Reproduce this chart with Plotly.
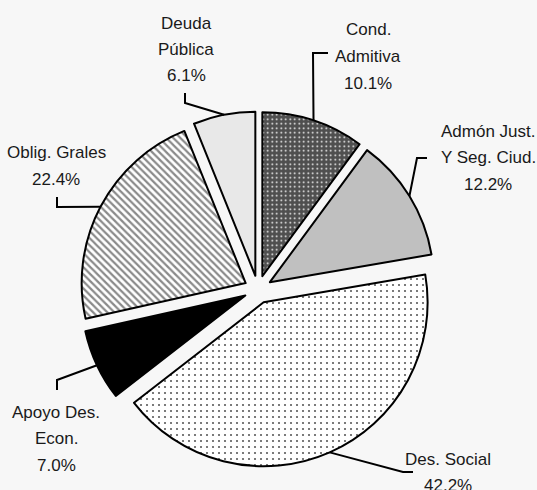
import math
import plotly.graph_objects as go

# ---- data ----
labels = [["Cond.", "Admitiva"], ["Admón Just.", "Y Seg. Ciud."], ["Des. Social"],
          ["Apoyo Des.", "Econ."], ["Oblig. Grales"], ["Deuda", "Pública"]]
values = [10.1, 12.2, 42.2, 7.0, 22.4, 6.1]

# ---- styling / layout ----
W, H = 537, 490
CX, CY = 258, 289.5          # pie centre in px (from top-left)
R = 164                      # radius in px
PULL = 0.085
half = R * (1 + PULL)

colors = ["#4f4f4f", "#c0c0c0", "#ffffff", "#000000", "#ffffff", "#e8e8e8"]
shapes_p = [".", "", ".", "", "\\", ""]
fg = ["#ffffff", "#c0c0c0", "#5a5a5a", "#000000", "#8a8a8a", "#e8e8e8"]
bg = ["#4f4f4f", "#c0c0c0", "#ffffff", "#000000", "#ffffff", "#e8e8e8"]
psize = [4.5, 8, 6, 8, 5, 8]
psol = [0.12, 0.0, 0.1, 0.0, 0.45, 0.0]

# x centre and y centre of first line (px); line step in px
label_pos = [(368, 30), (488, 131), (448, 459), (56, 412), (56, 153), (186, 23)]
LINE_STEP = 26.5
elbows = [[(313, 53), (328, 53)],
          [(417, 158), (427, 158)],
          [(403, 472), (413, 472)],
          [(57, 380), (57, 390)],
          [(57, 207), (57, 197)],
          [(185, 103), (185, 93)]]

FONT = "Liberation Sans, Arial, sans-serif"
FSIZE = 17

def px2paper(x, y):
    return x / W, 1 - y / H

fig = go.Figure(go.Pie(
    labels=[" ".join(l) for l in labels],
    values=values,
    sort=False,
    direction="clockwise",
    rotation=0,
    pull=[PULL] * len(values),
    textinfo="none",
    hoverinfo="skip",
    marker=dict(colors=colors,
                line=dict(color="#000000", width=2),
                pattern=dict(shape=shapes_p, fgcolor=fg, bgcolor=bg,
                             size=psize, solidity=psol, fillmode="replace")),
    domain=dict(x=[(CX - half) / W, (CX + half) / W],
                y=[(H - CY - half) / H, (H - CY + half) / H]),
    showlegend=False,
))

total = sum(values)
cum = 0.0
annotations = []
shapes = []
for lab, v, lp, el in zip(labels, values, label_pos, elbows):
    mid = (cum + v / 2) / total * 2 * math.pi
    cum += v
    dx, dy = math.sin(mid), -math.cos(mid)
    sx = CX + (R * PULL + R) * dx
    sy = CY + (R * PULL + R) * dy
    pts = [(sx, sy)] + el
    path = ""
    for i, (x, y) in enumerate(pts):
        px, py = px2paper(x, y)
        path += ("M" if i == 0 else " L") + f" {px:.5f} {py:.5f}"
    shapes.append(dict(type="path", xref="paper", yref="paper", path=path,
                       line=dict(color="#000000", width=2)))
    lines = lab + [f"{v:.1f}%"]
    for k, t in enumerate(lines):
        ax, ay = px2paper(lp[0], lp[1] + k * LINE_STEP)
        annotations.append(dict(x=ax, y=ay, xref="paper", yref="paper",
                                text=t, showarrow=False,
                                xanchor="center", yanchor="middle", align="center",
                                font=dict(family=FONT, size=FSIZE, color="#1a1a1a")))

fig.update_layout(
    width=W, height=H,
    margin=dict(l=0, r=0, t=0, b=0),
    paper_bgcolor="#f7f7f7",
    plot_bgcolor="#f7f7f7",
    annotations=annotations,
    shapes=shapes,
)

fig.write_html("out.html",
               config={"displayModeBar": False, "staticPlot": True},
               post_script="document.body.style.margin='0';document.body.style.background='#f7f7f7';")
